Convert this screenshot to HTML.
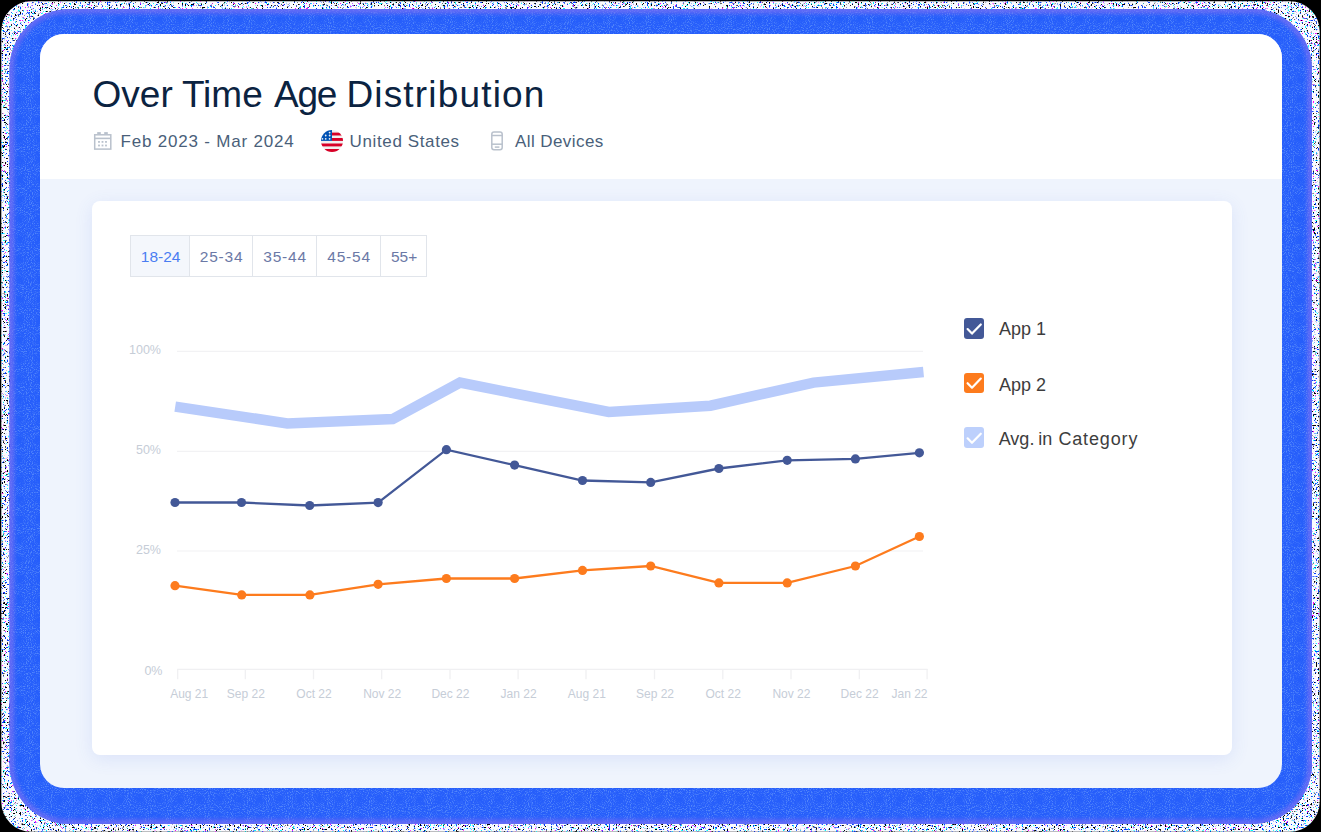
<!DOCTYPE html>
<html><head><meta charset="utf-8">
<style>
html,body{margin:0;padding:0;width:1321px;height:832px;overflow:hidden;background:#000;}
body{position:relative;font-family:"Liberation Sans",sans-serif;}
.abs{position:absolute;white-space:nowrap;line-height:1;}
#card{position:absolute;left:40px;top:34px;width:1242px;height:754px;border-radius:24px;background:#eff4fd;overflow:hidden;}
#head{position:absolute;left:0;top:0;width:1242px;height:145px;background:#fff;}
#panel{position:absolute;left:92px;top:201px;width:1140px;height:554px;border-radius:8px;background:#fff;box-shadow:0 4px 18px rgba(70,110,220,0.12);}
.title{font-size:37px;color:#0b2341;letter-spacing:0.45px;}
.sub{font-size:17px;color:#4a5f7a;}
.tabs{position:absolute;left:130px;top:235px;width:297px;height:42px;border:1px solid #e1e5eb;box-sizing:border-box;}
.tab{position:absolute;top:0;height:40px;box-sizing:border-box;padding-left:1.2px;padding-top:1px;font-size:15.5px;color:#6b79a6;display:flex;align-items:center;justify-content:center;border-left:1px solid #e1e5eb;}
.tab:first-child{border-left:none;background:#f4f7fc;color:#4a7df2;}
.ylab{font-size:12.5px;color:#c6cdd7;text-align:right;width:60px;}
.xlab{font-size:12px;color:#c6cdd7;}
.leg{font-size:18px;color:#3d3d3d;}
.cb{position:absolute;width:20.4px;height:20.5px;border-radius:3px;}
</style></head>
<body>
<svg id="noisesvg" style="position:absolute;left:0;top:0" width="1321" height="832" viewBox="0 0 1321 832">
  <defs>
    <clipPath id="ring"><rect x="1.3" y="1.2" width="1318.4" height="830.5" rx="30" ry="30"/></clipPath>
    <clipPath id="gl"><rect x="9.5" y="9" width="1302.5" height="815" rx="60" ry="60"/></clipPath>
    <filter id="nzk" x="0" y="0" width="1321" height="832" filterUnits="userSpaceOnUse">
      <feTurbulence type="fractalNoise" baseFrequency="0.55" numOctaves="2" seed="4"/>
      <feColorMatrix type="matrix" values="0 0 0 0 0  0 0 0 0 0  0 0 0 0 0  14 0 0 0 -8.8" />
    </filter>
    <filter id="nzb" x="0" y="0" width="1321" height="832" filterUnits="userSpaceOnUse">
      <feTurbulence type="fractalNoise" baseFrequency="0.55" numOctaves="2" seed="11"/>
      <feColorMatrix type="matrix" values="0 0 0 0 0  0 0 0 0 0.05  0 0 0 0 1  14 0 0 0 -9.0" />
    </filter>
    <filter id="nzc" x="0" y="0" width="1321" height="832" filterUnits="userSpaceOnUse">
      <feTurbulence type="fractalNoise" baseFrequency="0.6" numOctaves="2" seed="23"/>
      <feColorMatrix type="matrix" values="0 0 0 0 0  0 0 0 0 1  0 0 0 0 1  14 0 0 0 -9.6" />
    </filter>
    <filter id="nzm" x="0" y="0" width="1321" height="832" filterUnits="userSpaceOnUse">
      <feTurbulence type="fractalNoise" baseFrequency="0.6" numOctaves="2" seed="37"/>
      <feColorMatrix type="matrix" values="0 0 0 0 1  0 0 0 0 0  0 0 0 0 1  14 0 0 0 -10.0" />
    </filter>
    <filter id="nzg" x="0" y="0" width="1321" height="832" filterUnits="userSpaceOnUse">
      <feTurbulence type="fractalNoise" baseFrequency="0.95" numOctaves="1" seed="51"/>
      <feColorMatrix type="matrix" values="0 0 0 0 0.30  0 0 0 0 0.55  0 0 0 0 1  5 0 0 0 -2.6" />
    </filter>
    <filter id="nzd" x="0" y="0" width="1321" height="832" filterUnits="userSpaceOnUse">
      <feTurbulence type="fractalNoise" baseFrequency="0.95" numOctaves="1" seed="77"/>
      <feColorMatrix type="matrix" values="0 0 0 0 0.10  0 0 0 0 0.25  0 0 0 0 0.9  5 0 0 0 -2.6" />
    </filter>
    <filter id="blur3"><feGaussianBlur stdDeviation="2"/></filter>
  </defs>
  <g clip-path="url(#ring)">
    <rect x="0" y="0" width="1321" height="832" fill="#fbfbff"/>
    <rect x="0" y="0" width="1321" height="832" filter="url(#nzk)"/>
    <rect x="0" y="0" width="1321" height="832" filter="url(#nzb)"/>
    <rect x="0" y="0" width="1321" height="832" filter="url(#nzc)"/>
    <rect x="0" y="0" width="1321" height="832" filter="url(#nzm)"/>
  </g>
  <g clip-path="url(#gl)">
    <rect x="0" y="0" width="1321" height="832" fill="#265efb"/>
    <rect x="0" y="0" width="1321" height="832" filter="url(#nzg)" opacity="0.4"/>
    <rect x="0" y="0" width="1321" height="832" filter="url(#nzd)" opacity="0.3"/>
    <rect x="9.5" y="9" width="1302.5" height="815" rx="60" ry="60" fill="none" stroke="#7d6ff3" stroke-width="9" filter="url(#blur3)" opacity="0.7"/>
  </g>
</svg>
<div id="card">
  <div id="head"></div>
</div>
<div id="panel"></div>

<!-- header -->
<div class="abs title" style="left:92.6px;top:75.9px;letter-spacing:0px;">Over</div>
<div class="abs title" style="left:181.9px;top:75.9px;letter-spacing:0px;">Time</div>
<div class="abs title" style="left:274px;top:75.9px;letter-spacing:-1.3px;">Age</div>
<div class="abs title" style="left:346.4px;top:75.9px;letter-spacing:1.18px;">Distribution</div>

<svg class="abs" style="left:92px;top:130px" width="22" height="22" viewBox="0 0 22 22">
  <g fill="none" stroke="#b9c1cc" stroke-width="1.5">
    <rect x="2.7" y="4.8" width="16.1" height="14.3"/>
    <line x1="2.7" y1="8.4" x2="18.8" y2="8.4" stroke-width="1.6"/>
  </g>
  <rect x="5.2" y="2.1" width="3.6" height="2.2" fill="#b9c1cc"/>
  <rect x="12.2" y="2.1" width="3.6" height="2.2" fill="#b9c1cc"/>
  <g fill="#b9c1cc">
    <rect x="6.1" y="11" width="1.8" height="1.8"/><rect x="9.6" y="11" width="1.8" height="1.8"/><rect x="13.1" y="11" width="1.8" height="1.8"/>
    <rect x="6.1" y="14.6" width="1.8" height="1.8"/><rect x="9.6" y="14.6" width="1.8" height="1.8"/><rect x="13.1" y="14.6" width="1.8" height="1.8"/>
  </g>
</svg>
<div class="abs sub" style="left:120.5px;top:132.6px;letter-spacing:0.8px;">Feb 2023 - Mar 2024</div>

<svg class="abs" style="left:321px;top:130px" width="22" height="22" viewBox="0 0 22 22">
  <defs><clipPath id="fc"><circle cx="11" cy="11" r="11"/></clipPath></defs>
  <g clip-path="url(#fc)">
    <rect x="0" y="0" width="22" height="22" fill="#f0f0f0"/>
    <rect x="11" y="2.6" width="11" height="2.9" fill="#d80027"/>
    <rect x="11" y="8" width="11" height="2.9" fill="#d80027"/>
    <rect x="0" y="13.5" width="22" height="2.9" fill="#d80027"/>
    <rect x="0" y="19" width="22" height="3" fill="#d80027"/>
    <rect x="0" y="0" width="11" height="10.9" fill="#0052b4"/>
    <g fill="#f0f0f0">
      <circle cx="8.6" cy="2.6" r="0.9"/><circle cx="4.7" cy="5.5" r="0.9"/><circle cx="8.6" cy="5.5" r="0.9"/>
      <circle cx="1.4" cy="8.8" r="0.9"/><circle cx="4.7" cy="8.8" r="0.9"/><circle cx="8.6" cy="8.8" r="0.9"/>
    </g>
  </g>
</svg>
<div class="abs sub" style="left:349.6px;top:132.6px;letter-spacing:0.62px;">United States</div>

<svg class="abs" style="left:488px;top:129px" width="18" height="24" viewBox="0 0 18 24">
  <g fill="none" stroke="#b9c1cc" stroke-width="1.5">
    <rect x="3.8" y="3.1" width="10.4" height="17.6" rx="2.2"/>
    <line x1="3.8" y1="6.5" x2="14.2" y2="6.5"/>
    <line x1="3.8" y1="15.2" x2="14.2" y2="15.2"/>
    <line x1="6.8" y1="18.1" x2="11.4" y2="18.1"/>
  </g>
</svg>
<div class="abs sub" style="left:515px;top:132.6px;letter-spacing:0.42px;">All Devices</div>

<!-- tabs -->
<div class="tabs">
  <div class="tab" style="left:0;width:58px;letter-spacing:0px">18-24</div>
  <div class="tab" style="left:58px;width:63px;letter-spacing:0.8px">25-34</div>
  <div class="tab" style="left:121px;width:64px;letter-spacing:0.8px">35-44</div>
  <div class="tab" style="left:185px;width:64px;letter-spacing:0.8px">45-54</div>
  <div class="tab" style="left:249px;width:46px;letter-spacing:0px">55+</div>
</div>

<!-- chart -->
<svg class="abs" style="left:0;top:0" width="1321" height="832" viewBox="0 0 1321 832">
  <g stroke="#f2f2f4" stroke-width="1.2">
    <line x1="177" y1="351.4" x2="923" y2="351.4"/>
    <line x1="177" y1="451.4" x2="923" y2="451.4"/>
    <line x1="177" y1="551" x2="923" y2="551"/>
  </g>
  <g stroke="#f0f0f2" stroke-width="1.3">
    <line x1="177.1" y1="669.3" x2="927.7" y2="669.3"/>
    <line x1="177.7" y1="669" x2="177.7" y2="679.3"/>
    <line x1="245.3" y1="669" x2="245.3" y2="679.3"/>
    <line x1="313.5" y1="669" x2="313.5" y2="679.3"/>
    <line x1="381.7" y1="669" x2="381.7" y2="679.3"/>
    <line x1="450.0" y1="669" x2="450.0" y2="679.3"/>
    <line x1="518.1" y1="669" x2="518.1" y2="679.3"/>
    <line x1="586.0" y1="669" x2="586.0" y2="679.3"/>
    <line x1="654.5" y1="669" x2="654.5" y2="679.3"/>
    <line x1="722.8" y1="669" x2="722.8" y2="679.3"/>
    <line x1="791.0" y1="669" x2="791.0" y2="679.3"/>
    <line x1="859.3" y1="669" x2="859.3" y2="679.3"/>
    <line x1="927.1" y1="669" x2="927.1" y2="679.3"/>
  </g>
  <polyline fill="none" stroke="#b8cbfb" stroke-width="10.5" stroke-linejoin="miter" points="175.2,406.6 287.3,423.4 392.7,419 460,382.6 608.7,412 710.4,405.7 813.6,382.6 923.5,372"/>
  <polyline fill="none" stroke="#435897" stroke-width="2.3" points="175,502.5 241.5,502.5 309.7,505.5 378.1,502.6 446.4,449.7 514.6,465.1 582.5,480.5 650.7,482.4 718.9,468.5 787.2,460.3 855.4,458.9 919.4,452.8"/>
  <g fill="#435897">
    <circle cx="175" cy="502.5" r="4.6"/><circle cx="241.5" cy="502.5" r="4.6"/><circle cx="309.7" cy="505.5" r="4.6"/><circle cx="378.1" cy="502.6" r="4.6"/><circle cx="446.4" cy="449.7" r="4.6"/><circle cx="514.6" cy="465.1" r="4.6"/><circle cx="582.5" cy="480.5" r="4.6"/><circle cx="650.7" cy="482.4" r="4.6"/><circle cx="718.9" cy="468.5" r="4.6"/><circle cx="787.2" cy="460.3" r="4.6"/><circle cx="855.4" cy="458.9" r="4.6"/><circle cx="919.4" cy="452.8" r="4.6"/>
  </g>
  <polyline fill="none" stroke="#fd7b1d" stroke-width="2.3" points="175,585.7 241.7,594.9 309.9,594.9 378.1,584.3 446.4,578.5 514.6,578.5 582.5,570.4 650.7,566 718.9,582.9 787.2,582.9 855.4,566 919.4,536.5"/>
  <g fill="#fd7b1d">
    <circle cx="175" cy="585.7" r="4.6"/><circle cx="241.7" cy="594.9" r="4.6"/><circle cx="309.9" cy="594.9" r="4.6"/><circle cx="378.1" cy="584.3" r="4.6"/><circle cx="446.4" cy="578.5" r="4.6"/><circle cx="514.6" cy="578.5" r="4.6"/><circle cx="582.5" cy="570.4" r="4.6"/><circle cx="650.7" cy="566" r="4.6"/><circle cx="718.9" cy="582.9" r="4.6"/><circle cx="787.2" cy="582.9" r="4.6"/><circle cx="855.4" cy="566" r="4.6"/><circle cx="919.4" cy="536.5" r="4.6"/>
  </g>
</svg>

<div class="abs ylab" style="left:101px;top:344.4px;">100%</div>
<div class="abs ylab" style="left:101px;top:444.4px;">50%</div>
<div class="abs ylab" style="left:101px;top:544.4px;">25%</div>
<div class="abs ylab" style="left:102.5px;top:665px;">0%</div>

<div class="abs xlab" style="left:170.2px;top:687.8px;">Aug 21</div>
<div class="abs xlab" style="left:195.8px;width:100px;text-align:center;top:687.8px;">Sep 22</div>
<div class="abs xlab" style="left:264.0px;width:100px;text-align:center;top:687.8px;">Oct 22</div>
<div class="abs xlab" style="left:332.2px;width:100px;text-align:center;top:687.8px;">Nov 22</div>
<div class="abs xlab" style="left:400.4px;width:100px;text-align:center;top:687.8px;">Dec 22</div>
<div class="abs xlab" style="left:468.6px;width:100px;text-align:center;top:687.8px;">Jan 22</div>
<div class="abs xlab" style="left:536.8px;width:100px;text-align:center;top:687.8px;">Aug 21</div>
<div class="abs xlab" style="left:605.0px;width:100px;text-align:center;top:687.8px;">Sep 22</div>
<div class="abs xlab" style="left:673.2px;width:100px;text-align:center;top:687.8px;">Oct 22</div>
<div class="abs xlab" style="left:741.4px;width:100px;text-align:center;top:687.8px;">Nov 22</div>
<div class="abs xlab" style="left:809.6px;width:100px;text-align:center;top:687.8px;">Dec 22</div>
<div class="abs xlab" style="left:827.5px;width:100px;text-align:right;top:687.8px;">Jan 22</div>

<!-- legend -->
<div class="cb" style="left:964.1px;top:318.2px;background:#435897"></div>
<div class="cb" style="left:964.1px;top:372.9px;background:#fd7b1d"></div>
<div class="cb" style="left:964.1px;top:427.2px;background:#bdd0fc"></div>
<svg class="abs" style="left:964px;top:318px" width="20" height="130" viewBox="0 0 20 130">
  <g fill="none" stroke="#fff" stroke-width="2.2" stroke-linecap="round" stroke-linejoin="round">
    <polyline points="3.6,11.1 8,15.6 16.8,6.5"/>
    <polyline points="3.6,65.2 8,69.7 16.8,60.6"/>
    <polyline points="3.6,120.3 8,124.8 16.8,115.7"/>
  </g>
</svg>
<div class="abs leg" style="left:999px;top:319.9px;">App 1</div>
<div class="abs leg" style="left:999px;top:375.6px;">App 2</div>
<div class="abs leg" style="left:998.7px;top:430.2px;">Avg.</div>
<div class="abs leg" style="left:1038.3px;top:430.2px;">in</div>
<div class="abs leg" style="left:1058.4px;top:430.2px;letter-spacing:0.86px;">Category</div>

</body></html>
